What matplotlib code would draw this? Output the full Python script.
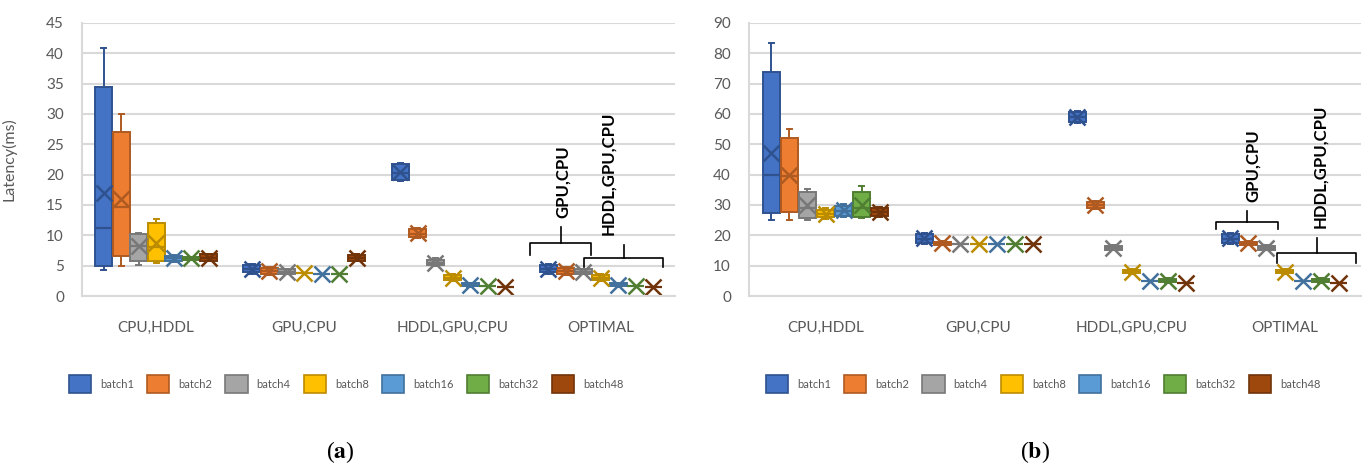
import numpy as np
import matplotlib
matplotlib.use('Agg')
from matplotlib import pyplot as plt
from matplotlib.patches import Patch

plt.rcParams['font.family'] = ['Lato', 'DejaVu Sans']
plt.rcParams['mathtext.fontset'] = 'stix'

categories = ['CPU,HDDL', 'GPU,CPU', 'HDDL,GPU,CPU', 'OPTIMAL']
batches = ['batch1', 'batch2', 'batch4', 'batch8', 'batch16', 'batch32', 'batch48']
fills = ['#4472C4', '#ED7D31', '#A5A5A5', '#FFC000', '#5B9BD5', '#70AD47', '#9E480E']
edges = ['#2F528F', '#AE5A21', '#787878', '#BC8C00', '#41719C', '#507E32', '#71340A']

# panel (a): rows = batches, columns = categories
a_whislo = [[4.3, 3.7, 19.0, 3.7], [5.0, 3.5, 9.5, 3.5], [5.1, 3.6, 4.9, 3.6],
            [5.4, 3.8, 2.4, 2.4], [5.6, 3.7, 1.5, 1.5], [5.9, 3.7, 1.6, 1.6],
            [5.7, 5.7, 1.5, 1.5]]
a_q1 = [[5.0, 3.9, 19.2, 3.9], [6.6, 3.7, 9.7, 3.7], [5.7, 3.7, 5.1, 3.7],
        [5.8, 3.8, 2.6, 2.6], [5.8, 3.7, 1.6, 1.6], [6.0, 3.7, 1.6, 1.6],
        [5.8, 5.8, 1.5, 1.5]]
a_med = [[11.2, 4.4, 20.3, 4.4], [14.7, 4.1, 10.3, 4.1], [8.3, 3.9, 5.5, 3.9],
         [8.0, 3.8, 3.0, 3.0], [6.2, 3.7, 1.8, 1.8], [6.2, 3.7, 1.6, 1.6],
         [6.3, 6.3, 1.5, 1.5]]
a_q3 = [[34.5, 5.1, 21.7, 5.1], [27.0, 4.6, 11.0, 4.6], [10.2, 4.4, 6.0, 4.4],
        [12.0, 3.8, 3.4, 3.4], [6.6, 3.7, 2.1, 2.1], [6.4, 3.7, 1.6, 1.6],
        [6.9, 6.8, 1.5, 1.5]]
a_whishi = [[40.8, 5.2, 21.9, 5.2], [30.0, 4.7, 11.2, 4.7], [10.4, 4.5, 6.2, 4.5],
            [12.7, 3.8, 3.6, 3.6], [6.8, 3.7, 2.2, 2.2], [6.5, 3.7, 1.6, 1.6],
            [7.0, 6.9, 1.5, 1.5]]
a_mean = [[16.9, 4.5, 20.4, 4.5], [16.0, 4.2, 10.4, 4.2], [8.2, 4.0, 5.5, 4.0],
          [8.7, 3.8, 3.0, 3.0], [6.2, 3.7, 1.8, 1.8], [6.2, 3.7, 1.6, 1.6],
          [6.3, 6.3, 1.5, 1.5]]

# panel (b)
b_whislo = [[25.0, 17.0, 57.0, 17.0], [25.0, 16.8, 28.7, 16.8], [25.0, 17.0, 15.1, 15.1],
            [25.5, 17.0, 7.3, 7.3], [26.0, 17.0, 4.8, 4.8], [25.8, 17.0, 4.4, 4.4],
            [26.2, 17.0, 4.4, 4.4]]
b_q1 = [[27.5, 17.5, 57.5, 17.5], [27.8, 16.9, 29.0, 16.9], [25.8, 17.0, 15.3, 15.3],
        [26.0, 17.0, 7.5, 7.5], [26.5, 17.0, 4.8, 4.8], [26.0, 17.0, 4.6, 4.6],
        [26.5, 17.0, 4.4, 4.4]]
b_med = [[40.0, 18.9, 59.0, 18.9], [39.5, 17.4, 30.0, 17.4], [29.0, 17.0, 15.9, 15.9],
         [27.0, 17.0, 8.0, 8.0], [28.0, 17.0, 4.8, 4.8], [29.0, 17.0, 5.1, 5.1],
         [27.8, 17.0, 4.4, 4.4]]
b_q3 = [[74.0, 20.3, 60.5, 20.3], [52.2, 17.9, 31.0, 17.9], [34.2, 17.0, 16.5, 16.5],
        [28.5, 17.0, 8.6, 8.6], [29.8, 17.0, 4.8, 4.8], [34.4, 17.0, 5.6, 5.6],
        [29.0, 17.0, 4.4, 4.4]]
b_whishi = [[83.5, 20.8, 61.0, 20.8], [55.0, 18.0, 31.3, 18.0], [35.3, 17.0, 16.7, 16.7],
            [29.0, 17.0, 8.8, 8.8], [30.2, 17.0, 4.8, 4.8], [36.4, 17.0, 5.8, 5.8],
            [29.3, 17.0, 4.4, 4.4]]
b_mean = [[47.0, 19.0, 59.0, 19.0], [40.0, 17.4, 30.0, 17.4], [30.0, 17.0, 15.9, 15.9],
          [27.0, 17.0, 8.0, 8.0], [28.2, 17.0, 4.8, 4.8], [30.0, 17.0, 5.1, 5.1],
          [27.8, 17.0, 4.4, 4.4]]

W, H = 1363, 466
fig = plt.figure(figsize=(W / 100, H / 100), dpi=100)
grid_c = '#D9D9D9'
text_c = '#595959'
bw = 0.118


def draw_panel(ax, lo, q1, med, q3, hi, mean, ymax, ystep):
    ax.set_axisbelow(True)
    for j in range(len(batches)):
        stats = []
        for i in range(len(categories)):
            stats.append(dict(whislo=lo[j][i], q1=q1[j][i], med=med[j][i], q3=q3[j][i],
                              whishi=hi[j][i], mean=mean[j][i], fliers=[]))
        pos = np.arange(len(categories)) + (j - 3) * bw
        ax.bxp(stats, positions=pos, widths=bw * 0.97, showmeans=True, showfliers=False,
               patch_artist=True, manage_ticks=False,
               boxprops=dict(facecolor=fills[j], edgecolor=edges[j], linewidth=1.4),
               medianprops=dict(color=edges[j], linewidth=1.6),
               whiskerprops=dict(color=edges[j], linewidth=1.4),
               capprops=dict(color=edges[j], linewidth=1.4),
               capwidths=bw * 0.3,
               meanprops=dict(marker='x', markersize=12, markeredgewidth=1.8,
                              markeredgecolor=edges[j]))
    ax.set_xlim(-0.5, len(categories) - 0.5)
    ax.set_ylim(0, ymax)
    ax.set_yticks(np.arange(0, ymax + 1, ystep))
    ax.set_xticks(np.arange(len(categories)))
    ax.set_xticklabels(categories)
    ax.yaxis.grid(True, color=grid_c, linewidth=1.5)
    for s in ['top', 'right']:
        ax.spines[s].set_visible(False)
    for s in ['left', 'bottom']:
        ax.spines[s].set_color(grid_c)
        ax.spines[s].set_linewidth(1.5)
    ax.tick_params(axis='y', length=0, pad=13, labelsize=11, labelcolor=text_c)
    ax.tick_params(axis='x', length=0, pad=18, labelsize=11, labelcolor=text_c)


def brace(ax, x0, x1, xt, yb, ye, yt):
    ax.plot([x0, x0, x1, x1], [ye, yb, yb, ye], color='black', lw=1.2,
            solid_joinstyle='round', clip_on=False)
    ax.plot([xt, xt], [yb, yt], color='black', lw=1.2, clip_on=False)


axa = fig.add_axes([82 / W, 1 - 296 / H, 593 / W, 273 / H])
draw_panel(axa, a_whislo, a_q1, a_med, a_q3, a_whishi, a_mean, 45, 5)
axa.set_ylabel('Latency(ms)', fontsize=11.5, color=text_c)
axa.yaxis.set_label_coords(-0.11, 0.5)
brace(axa, 3 - 0.479, 3 - 0.067, 3 - 0.27, 8.7, 6.8, 11.4)
axa.text(3 - 0.256, 12.9, 'GPU,CPU', rotation=90, ha='center', va='bottom',
         fontsize=12, fontweight='bold')
brace(axa, 3 - 0.115, 3 + 0.418, 3 + 0.155, 6.3, 4.8, 8.4)
axa.text(3 + 0.047, 10.0, 'HDDL,GPU,CPU', rotation=90, ha='center', va='bottom',
         fontsize=12, fontweight='bold')

axb = fig.add_axes([749 / W, 1 - 296 / H, 612 / W, 273 / H])
draw_panel(axb, b_whislo, b_q1, b_med, b_q3, b_whishi, b_mean, 90, 10)
brace(axb, 3 - 0.45, 3 - 0.042, 3 - 0.247, 24.5, 22.0, 28.1)
axb.text(3 - 0.206, 31.1, 'GPU,CPU', rotation=90, ha='center', va='bottom',
         fontsize=12, fontweight='bold')
brace(axb, 3 - 0.047, 3 + 0.465, 3 + 0.21, 14.1, 10.8, 19.0)
axb.text(3 + 0.232, 22.3, 'HDDL,GPU,CPU', rotation=90, ha='center', va='bottom',
         fontsize=12, fontweight='bold')

handles = [Patch(facecolor=fills[j], edgecolor=edges[j], linewidth=1.2) for j in range(len(batches))]
for cx in [346, 1043]:
    fig.legend(handles, batches, loc='center', bbox_to_anchor=(cx / W, 1 - 384 / H),
               ncol=7, frameon=False, fontsize=8, labelcolor=text_c,
               handlelength=2.0, handleheight=2.0, handletextpad=0.8, columnspacing=1.2)

fig.text(340 / W, 1 - 452 / H, r'($\mathbf{a}$)', ha='center', va='center',
         fontsize=17, family='Liberation Serif')
fig.text(1035 / W, 1 - 452 / H, r'($\mathbf{b}$)', ha='center', va='center',
         fontsize=17, family='Liberation Serif')

fig.savefig('out.png', dpi=100)
